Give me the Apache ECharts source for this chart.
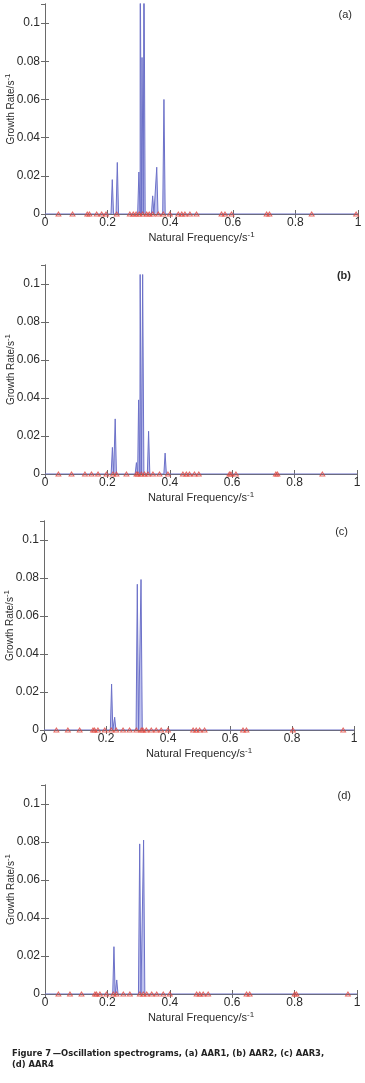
<!DOCTYPE html>
<html>
<head>
<meta charset="utf-8">
<script src="https://cdn.jsdelivr.net/npm/echarts@6/dist/echarts.min.js"></script>
<style>
  html, body { margin: 0; padding: 0; background: #fff; }
  #main { width: 365px; height: 1083px; }
</style>
</head>
<body>
<div id="main"></div>
<script>
// spectral peaks: natural frequency (1/s) and growth rate (1/s)
const peakFreqA = [0.215, 0.231, 0.300, 0.304, 0.310, 0.316, 0.344, 0.357, 0.380];
const peakRateA = [0.018, 0.027, 0.022, 0.150, 0.082, 0.150, 0.0095, 0.0245, 0.060];
const peakFreqB = [0.216, 0.225, 0.293, 0.300, 0.305, 0.313, 0.332, 0.385];
const peakRateB = [0.014, 0.029, 0.006, 0.039, 0.105, 0.105, 0.0225, 0.011];
const peakFreqC = [0.218, 0.228, 0.301, 0.313];
const peakRateC = [0.0242, 0.0067, 0.0767, 0.0792];
const peakFreqD = [0.221, 0.230, 0.3035, 0.316];
const peakRateD = [0.0249, 0.0074, 0.079, 0.081];

// eigenvalue positions marked on the frequency axis
const modesA = [0.043, 0.088, 0.135, 0.142, 0.165, 0.181, 0.195, 0.229, 0.271, 0.282, 0.291, 0.301,
  0.312, 0.325, 0.333, 0.344, 0.362, 0.378, 0.399, 0.426, 0.437, 0.447, 0.463, 0.484, 0.564,
  0.575, 0.596, 0.708, 0.717, 0.852, 0.994];
const modesB = [0.043, 0.085, 0.128, 0.149, 0.170, 0.197, 0.218, 0.229, 0.261, 0.293, 0.298, 0.309,
  0.319, 0.330, 0.346, 0.367, 0.394, 0.442, 0.453, 0.463, 0.479, 0.493, 0.591, 0.596, 0.612,
  0.740, 0.745, 0.889];
const modesC = [0.040, 0.077, 0.115, 0.158, 0.163, 0.174, 0.196, 0.217, 0.233, 0.255, 0.276, 0.298,
  0.314, 0.319, 0.330, 0.346, 0.362, 0.378, 0.400, 0.481, 0.491, 0.502, 0.518, 0.642, 0.653,
  0.803, 0.965];
const modesD = [0.043, 0.080, 0.117, 0.160, 0.165, 0.176, 0.197, 0.219, 0.229, 0.251, 0.272, 0.304,
  0.315, 0.326, 0.342, 0.358, 0.379, 0.400, 0.486, 0.496, 0.507, 0.523, 0.646, 0.656, 0.800,
  0.806, 0.971];

const panelLabels = ['(a)', '(b)', '(c)', '(d)'];
const xTitle = 'Natural Frequency/s{sup|-1}';
const yTitle = 'Growth Rate/s{sup|-1}';
const caption = 'Figure 7\u2009\u2014Oscillation spectrograms, (a) AAR1, (b) AAR2, (c) AAR3,\n(d) AAR4';

const panels = [
  { freq: peakFreqA, rate: peakRateA, modes: modesA },
  { freq: peakFreqB, rate: peakRateB, modes: modesB },
  { freq: peakFreqC, rate: peakRateC, modes: modesC },
  { freq: peakFreqD, rate: peakRateD, modes: modesD }
];

// grid boxes (px)
const boxes = [
  { left: 45, top: 4, width: 313, height: 210 },
  { left: 45, top: 265, width: 312, height: 209 },
  { left: 44, top: 521, width: 310, height: 209 },
  { left: 45, top: 785, width: 312, height: 209 }
];

const HALF_W = 0.004; // half width of a spike on the frequency axis
const AXIS_COLOR = '#6a6a6a';
const TEXT_COLOR = '#2a2a2a';
const FONT = 'Liberation Sans, Arial, sans-serif';

function spikeLine(freq, rate) {
  const pts = [[0, 0]];
  freq.forEach((f, i) => {
    pts.push([f - HALF_W, 0], [f, rate[i]], [f + HALF_W, 0]);
  });
  pts.push([1, 0]);
  return pts;
}

const supRich = { sup: { fontSize: 8, verticalAlign: 'top', padding: [0, 0, 6, 0], color: TEXT_COLOR, fontFamily: FONT } };

const grid = [], xAxis = [], yAxis = [], series = [], graphic = [];

panels.forEach((p, i) => {
  grid.push(Object.assign({ show: false, containLabel: false, outerBoundsMode: 'none' }, boxes[i]));

  const tick = { show: true, inside: true, length: 4, lineStyle: { color: AXIS_COLOR } };
  const line = { show: true, lineStyle: { color: AXIS_COLOR, width: 1 } };

  xAxis.push({
    type: 'value', gridIndex: i, min: 0, max: 1, interval: 0.2,
    position: 'bottom',
    axisLine: line, axisTick: tick, splitLine: { show: false },
    axisLabel: { color: TEXT_COLOR, fontSize: 12, fontFamily: FONT, margin: 3 },
    name: xTitle, nameLocation: 'middle', nameGap: 17, nameMoveOverlap: false,
    nameTextStyle: { color: TEXT_COLOR, fontSize: 11, fontFamily: FONT, rich: supRich }
  });
  xAxis.push({
    type: 'value', gridIndex: i, min: 0, max: 1, interval: 0.2,
    position: 'top',
    axisLine: line, axisTick: tick, splitLine: { show: false },
    axisLabel: { show: false }
  });
  yAxis.push({
    type: 'value', gridIndex: i, min: 0, max: 0.11, interval: 0.02,
    position: 'left',
    axisLine: line, axisTick: tick, splitLine: { show: false },
    axisLabel: { color: TEXT_COLOR, fontSize: 12, fontFamily: FONT, margin: 5, showMaxLabel: false },
    name: yTitle, nameLocation: 'middle', nameGap: 27, nameMoveOverlap: false,
    nameTextStyle: { color: TEXT_COLOR, fontSize: 10, fontFamily: FONT, rich: supRich }
  });
  yAxis.push({
    type: 'value', gridIndex: i, min: 0, max: 0.11, interval: 0.02,
    position: 'right',
    axisLine: line, axisTick: tick, splitLine: { show: false },
    axisLabel: { show: false }
  });

  series.push({
    type: 'line',
    xAxisIndex: i * 2, yAxisIndex: i * 2,
    data: spikeLine(p.freq, p.rate),
    symbol: 'none',
    clip: true,
    lineStyle: { color: '#6c71c8', width: 1 },
    areaStyle: { color: '#b7baec', opacity: 0.9 },
    z: 2
  });
  series.push({
    type: 'scatter',
    xAxisIndex: i * 2, yAxisIndex: i * 2,
    data: p.modes.map(f => [f, 0]),
    symbol: 'triangle',
    symbolSize: [5, 4],
    itemStyle: { color: 'rgba(0,0,0,0)', borderColor: '#e2463c', borderWidth: 0.9 },
    z: 3
  });

  const b = boxes[i];
  graphic.push({
    type: 'text',
    right: 365 - (b.left + b.width) + 6,
    top: b.top + 5,
    style: {
      text: panelLabels[i],
      font: (i === 1 ? 'bold ' : '') + '11px ' + FONT,
      fill: TEXT_COLOR
    }
  });
});

graphic.push({
  type: 'text',
  left: 12,
  top: 1048,
  style: {
    text: caption,
    font: 'bold 9.3px "Liberation Sans Narrow", "DejaVu Sans Condensed", "Liberation Sans", sans-serif',
    fill: '#222',
    lineHeight: 11
  }
});

const chart = echarts.init(document.getElementById('main'), null, { renderer: 'canvas' });
chart.setOption({
  animation: false,
  backgroundColor: '#fff',
  grid: grid,
  xAxis: xAxis,
  yAxis: yAxis,
  series: series,
  graphic: graphic
});
</script>
</body>
</html>
